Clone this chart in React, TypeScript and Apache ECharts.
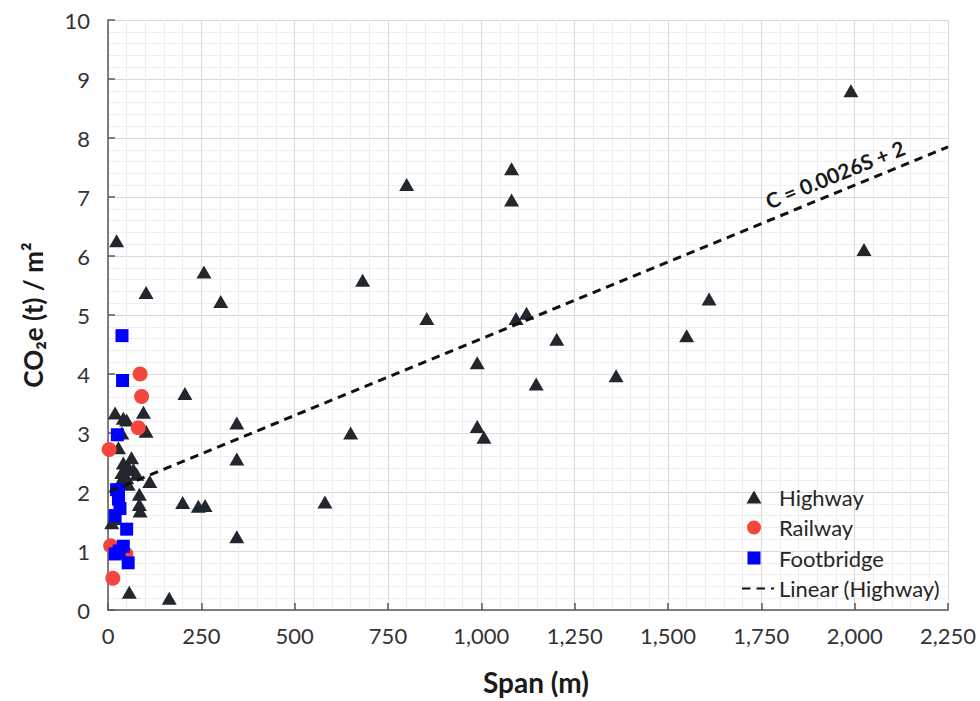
import React, { useEffect, useRef } from "react";
import * as echarts from "echarts";

const highway: number[][] = [
  [1990, 8.8], [1081, 7.48], [800, 7.21], [1081, 6.95], [23, 6.26], [2025, 6.11],
  [257, 5.73], [682, 5.59], [102, 5.38], [302, 5.23], [1610, 5.27], [1121, 5.03],
  [1093, 4.94], [854, 4.94], [1550, 4.65], [1202, 4.59], [989, 4.19], [1361, 3.97],
  [1147, 3.83], [206, 3.67], [345, 3.17], [989, 3.11], [1007, 2.93], [650, 3.0],
  [345, 2.56], [581, 1.83], [200, 1.82], [242, 1.76], [260, 1.77], [345, 1.24],
  [57, 0.3], [164, 0.2],
  [19, 3.34], [41, 3.25], [50, 3.22], [95, 3.35], [102, 3.03], [37, 3.0], [28, 2.75],
  [63, 2.58], [41, 2.49], [54, 2.43], [68, 2.38], [37, 2.33], [50, 2.24], [77, 2.3],
  [112, 2.18], [84, 1.96], [84, 1.79], [86, 1.68], [10, 1.48], [54, 2.13], [32, 2.16],
  [20, 1.55],
];

const railway: number[][] = [
  [86, 4.0], [90, 3.62], [81, 3.09], [3, 2.72], [7, 1.09], [13, 0.54], [48, 0.95],
];

const footbridge: number[][] = [
  [37.5, 4.65], [39, 3.89], [25, 2.97], [23, 2.04], [28, 1.88], [32, 1.72], [19, 1.6],
  [50, 1.37], [41, 1.08], [19, 0.95], [54, 0.8], [30, 1.0], [28, 2.0],
];

const trendline: number[][] = [
  [5, 2.01], [2250, 7.85],
];

const trendLabel = "C = 0.0026S + 2";

const FONT = "Lato";

// legend icon paths in a 32x14 box (anchors keep the box from being stretched)
const BOX = " M0,0 L0.01,0.01 Z M32,14 L31.99,13.99 Z";
const ICON_TRI = "path://M4.5,13.5 L12,0.5 L19.5,13.5 Z" + BOX;
const ICON_CIR = "path://M5,7 A7,7 0 1 1 19,7 A7,7 0 1 1 5,7 Z" + BOX;
const ICON_SQR = "path://M5.5,0.5 L18.5,0.5 L18.5,13.5 L5.5,13.5 Z" + BOX;

export default function App() {
  const ref = useRef<HTMLDivElement>(null);
  useEffect(() => {
    document.body.style.margin = "0";
    if (!ref.current) return;
    const chart = echarts.init(ref.current, null, { renderer: "svg" });
    chart.setOption({
      animation: false,
      backgroundColor: "#ffffff",
      textStyle: { fontFamily: FONT },
      grid: { left: 108, right: 32, top: 20, bottom: 90 },
      xAxis: {
        type: "value",
        min: 0,
        max: 2250,
        interval: 250,
        name: "Span (m)",
        nameLocation: "middle",
        nameGap: 58,
        nameTextStyle: {
          fontFamily: FONT, fontSize: 28, fontWeight: "bold", color: "#1a1a1a",
          padding: [0, 0, 0, 16],
        },
        axisLine: { show: true, onZero: false, lineStyle: { color: "#595959", width: 1.5 } },
        axisTick: { show: true, inside: true, length: 7, lineStyle: { color: "#595959", width: 1.5 } },
        axisLabel: {
          margin: 14,
          fontFamily: FONT,
          fontSize: 22,
          color: "#333333",
          formatter: (v: number) => v.toLocaleString("en-US"),
        },
        splitLine: { show: true, lineStyle: { color: "#d9d9d9", width: 1 } },
        minorTick: { show: false, splitNumber: 5 },
        minorSplitLine: { show: true, lineStyle: { color: "#eeeeee", width: 1 } },
      },
      yAxis: {
        type: "value",
        min: 0,
        max: 10,
        interval: 1,
        name: "CO₂e (t) / m²",
        nameLocation: "middle",
        nameGap: 62,
        nameTextStyle: { fontFamily: FONT, fontSize: 26, fontWeight: "bold", color: "#1a1a1a" },
        axisLine: { show: true, onZero: false, lineStyle: { color: "#595959", width: 1.5 } },
        axisTick: { show: true, inside: true, length: 7, lineStyle: { color: "#595959", width: 1.5 } },
        axisLabel: { margin: 18, fontFamily: FONT, fontSize: 22, color: "#333333" },
        splitLine: { show: true, lineStyle: { color: "#d9d9d9", width: 1 } },
        minorTick: { show: false, splitNumber: 5 },
        minorSplitLine: { show: true, lineStyle: { color: "#eeeeee", width: 1 } },
      },
      legend: {
        orient: "vertical",
        left: 741,
        top: 486,
        padding: 0,
        itemWidth: 32,
        itemHeight: 14,
        itemGap: 8.5,
        textStyle: { fontFamily: FONT, fontSize: 22, color: "#262626" },
        data: [
          { name: "Highway", icon: ICON_TRI },
          { name: "Railway", icon: ICON_CIR },
          { name: "Footbridge", icon: ICON_SQR },
          { name: "Linear (Highway)", itemStyle: { opacity: 0 } },
        ],
      },
      series: [
        {
          name: "Highway",
          type: "scatter",
          symbol: "triangle",
          symbolSize: [15, 13],
          itemStyle: { color: "#22272e", opacity: 1 },
          data: highway,
          z: 2,
        },
        {
          name: "Railway",
          type: "scatter",
          symbol: "circle",
          symbolSize: 15,
          itemStyle: { color: "#f4463c", opacity: 1 },
          data: railway,
          z: 3,
        },
        {
          name: "Footbridge",
          type: "scatter",
          symbol: "rect",
          symbolSize: 13,
          itemStyle: { color: "#0000ff", opacity: 1 },
          data: footbridge,
          z: 4,
        },
        {
          name: "Linear (Highway)",
          type: "line",
          symbol: "none",
          showSymbol: false,
          data: trendline,
          lineStyle: { color: "#111111", width: 3, type: [8.5, 6] },
          itemStyle: { color: "#111111" },
          z: 5,
        },
      ],
      graphic: [
        {
          type: "text",
          x: 835,
          y: 174,
          rotation: (22 * Math.PI) / 180,
          style: {
            text: trendLabel,
            fontFamily: FONT,
            fontSize: 21,
            fontWeight: "bold",
            fill: "#1a1a1a",
            align: "center",
            verticalAlign: "middle",
          },
          z: 10,
        },
      ],
    });
    return () => chart.dispose();
  }, []);
  return <div ref={ref} style={{ width: 980, height: 701 }} />;
}
